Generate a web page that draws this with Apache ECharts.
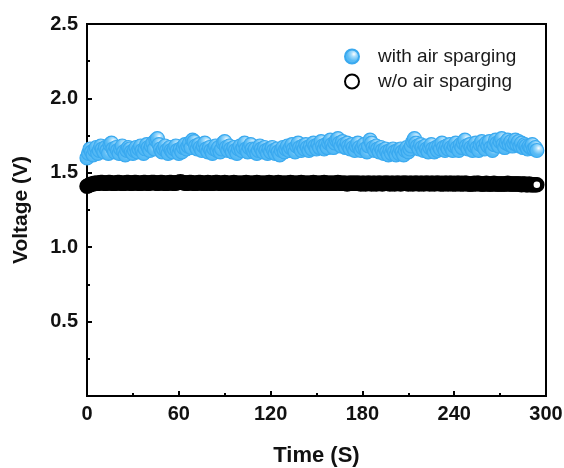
<!DOCTYPE html>
<html><head><meta charset="utf-8">
<script src="https://cdn.jsdelivr.net/npm/echarts@6/dist/echarts.min.js"></script>
<style>html,body{margin:0;padding:0;background:#fff}#c{width:564px;height:468px}</style>
</head><body><div id="c"></div>
<script>
const xTicks = [0, 60, 120, 180, 240, 300];
const yTicks = [0.5, 1.0, 1.5, 2.0, 2.5];
const seriesNames = ['with air sparging', 'w/o air sparging'];
const time = [
0,1,2,3,4,5,6,7,8,9,10,11,12,13,14,15,16,17,18,19,20,21,22,23,24,25,26,27,28,29,
30,31,32,33,34,35,36,37,38,39,40,41,42,43,44,45,46,47,48,49,50,51,52,53,54,55,56,57,58,59,
60,61,62,63,64,65,66,67,68,69,70,71,72,73,74,75,76,77,78,79,80,81,82,83,84,85,86,87,88,89,
90,91,92,93,94,95,96,97,98,99,100,101,102,103,104,105,106,107,108,109,110,111,112,113,114,115,116,117,118,119,
120,121,122,123,124,125,126,127,128,129,130,131,132,133,134,135,136,137,138,139,140,141,142,143,144,145,146,147,148,149,
150,151,152,153,154,155,156,157,158,159,160,161,162,163,164,165,166,167,168,169,170,171,172,173,174,175,176,177,178,179,
180,181,182,183,184,185,186,187,188,189,190,191,192,193,194,195,196,197,198,199,200,201,202,203,204,205,206,207,208,209,
210,211,212,213,214,215,216,217,218,219,220,221,222,223,224,225,226,227,228,229,230,231,232,233,234,235,236,237,238,239,
240,241,242,243,244,245,246,247,248,249,250,251,252,253,254,255,256,257,258,259,260,261,262,263,264,265,266,267,268,269,
270,271,272,273,274,275,276,277,278,279,280,281,282,283,284,285,286,287,288,289,290,291,292,293,294];
const withAir = [
1.60,1.63,1.66,1.64,1.62,1.65,1.67,1.63,1.65,1.68,
1.66,1.64,1.67,1.65,1.63,1.69,1.70,1.66,1.64,1.67,
1.65,1.63,1.66,1.68,1.64,1.62,1.65,1.67,1.66,1.64,
1.63,1.65,1.67,1.64,1.66,1.68,1.65,1.63,1.66,1.69,
1.67,1.65,1.68,1.70,1.66,1.72,1.73,1.69,1.66,1.64,
1.66,1.68,1.65,1.63,1.67,1.65,1.64,1.66,1.68,1.65,
1.63,1.66,1.64,1.67,1.69,1.66,1.68,1.70,1.67,1.72,
1.71,1.68,1.66,1.69,1.67,1.65,1.68,1.70,1.66,1.64,
1.67,1.65,1.63,1.66,1.68,1.65,1.67,1.64,1.66,1.70,
1.71,1.67,1.65,1.68,1.66,1.64,1.67,1.65,1.63,1.66,
1.68,1.65,1.67,1.70,1.66,1.64,1.67,1.69,1.66,1.64,
1.66,1.63,1.65,1.68,1.66,1.64,1.67,1.65,1.63,1.66,
1.64,1.67,1.65,1.63,1.66,1.64,1.62,1.65,1.67,1.64,
1.66,1.68,1.65,1.67,1.69,1.66,1.64,1.68,1.70,1.67,
1.65,1.68,1.66,1.69,1.67,1.65,1.68,1.66,1.70,1.68,
1.66,1.69,1.67,1.71,1.68,1.66,1.69,1.67,1.70,1.72,
1.69,1.67,1.70,1.72,1.73,1.70,1.68,1.71,1.69,1.67,
1.70,1.68,1.66,1.69,1.67,1.65,1.68,1.70,1.67,1.65,
1.67,1.69,1.66,1.64,1.68,1.72,1.70,1.67,1.65,1.68,
1.66,1.64,1.67,1.65,1.63,1.66,1.64,1.62,1.65,1.63,
1.66,1.64,1.62,1.65,1.63,1.66,1.64,1.62,1.65,1.67,
1.64,1.66,1.68,1.71,1.73,1.70,1.68,1.66,1.69,1.67,
1.65,1.68,1.66,1.64,1.67,1.69,1.66,1.64,1.67,1.65,
1.68,1.66,1.70,1.67,1.65,1.68,1.66,1.69,1.67,1.65,
1.68,1.70,1.67,1.65,1.69,1.67,1.70,1.72,1.68,1.66,
1.69,1.67,1.65,1.68,1.70,1.67,1.65,1.69,1.71,1.68,
1.66,1.70,1.68,1.71,1.67,1.65,1.69,1.72,1.70,1.68,
1.71,1.73,1.69,1.67,1.70,1.72,1.69,1.71,1.68,1.70,
1.72,1.69,1.71,1.68,1.70,1.67,1.69,1.68,1.66,1.68,
1.67,1.69,1.66,1.67,1.65];
const withoutAir = [
1.41,1.415,1.42,1.425,1.425,1.43,1.43,1.43,1.43,1.435,
1.435,1.43,1.43,1.43,1.435,1.435,1.43,1.43,1.43,1.43,
1.435,1.435,1.43,1.43,1.43,1.43,1.435,1.435,1.43,1.43,
1.43,1.435,1.435,1.43,1.43,1.43,1.43,1.435,1.435,1.43,
1.43,1.43,1.435,1.435,1.435,1.43,1.43,1.43,1.435,1.435,
1.43,1.43,1.43,1.43,1.435,1.435,1.43,1.43,1.43,1.435,
1.435,1.44,1.435,1.435,1.43,1.43,1.43,1.435,1.435,1.43,
1.43,1.43,1.43,1.435,1.435,1.43,1.43,1.43,1.43,1.435,
1.43,1.43,1.43,1.43,1.435,1.435,1.43,1.43,1.43,1.43,
1.435,1.43,1.43,1.43,1.43,1.43,1.435,1.43,1.43,1.43,
1.43,1.43,1.43,1.43,1.435,1.43,1.43,1.43,1.43,1.43,
1.43,1.435,1.43,1.43,1.43,1.43,1.43,1.43,1.43,1.435,
1.43,1.43,1.43,1.43,1.43,1.435,1.43,1.43,1.43,1.43,
1.43,1.43,1.43,1.435,1.43,1.43,1.43,1.43,1.43,1.43,
1.435,1.43,1.43,1.43,1.43,1.43,1.43,1.43,1.435,1.43,
1.43,1.43,1.43,1.43,1.43,1.435,1.43,1.43,1.43,1.43,
1.43,1.43,1.43,1.43,1.435,1.43,1.43,1.43,1.43,1.43,
1.425,1.43,1.43,1.43,1.43,1.43,1.43,1.43,1.43,1.425,
1.43,1.43,1.425,1.43,1.43,1.43,1.425,1.43,1.43,1.425,
1.43,1.43,1.43,1.425,1.43,1.43,1.43,1.43,1.425,1.43,
1.43,1.425,1.43,1.43,1.43,1.425,1.43,1.43,1.43,1.43,
1.425,1.43,1.43,1.425,1.43,1.43,1.43,1.425,1.43,1.43,
1.425,1.43,1.43,1.43,1.425,1.43,1.43,1.425,1.43,1.43,
1.43,1.425,1.43,1.425,1.43,1.43,1.425,1.43,1.43,1.425,
1.43,1.425,1.43,1.43,1.425,1.43,1.425,1.43,1.43,1.425,
1.425,1.425,1.425,1.43,1.425,1.43,1.43,1.425,1.425,1.425,
1.425,1.43,1.425,1.425,1.425,1.425,1.43,1.425,1.425,1.425,
1.425,1.425,1.425,1.425,1.425,1.43,1.425,1.425,1.425,1.425,
1.425,1.425,1.425,1.425,1.42,1.425,1.425,1.42,1.42,1.425,
1.42,1.42,1.42,1.42,1.42];

const FONT = 'Arial, "Liberation Sans", sans-serif';
const chart = echarts.init(document.getElementById('c'), null, {renderer: 'canvas'});
const blueFill = new echarts.graphic.RadialGradient(0.62, 0.35, 0.75, [
  {offset: 0, color: '#ffffff'},
  {offset: 0.22, color: '#a8ddfb'},
  {offset: 0.55, color: '#5bbcf6'},
  {offset: 1, color: '#44b2f3'}
]);
chart.setOption({
  animation: false,
  backgroundColor: '#ffffff',
  grid: {left: 87, right: 18, top: 24, bottom: 72, show: true, borderColor: '#000', borderWidth: 2,
    containLabel: false, outerBoundsMode: 'none'},
  legend: {
    orient: 'vertical', left: 339, top: 42, itemGap: 6,
    itemWidth: 14, itemHeight: 14,
    data: [{name: seriesNames[0], icon: 'circle'}, {name: seriesNames[1], icon: 'circle'}],
    textStyle: {fontFamily: FONT, fontSize: 19, color: '#1a1a1a', padding: [0, 0, 0, 14]}
  },
  xAxis: {
    type: 'value', min: 0, max: 300, interval: 60,
    name: 'Time (S)', nameLocation: 'middle', nameGap: 49,
    nameTextStyle: {fontFamily: FONT, fontSize: 22, fontWeight: 'bold', color: '#111'},
    axisLine: {lineStyle: {color: '#000', width: 2}},
    axisTick: {inside: true, length: 5, lineStyle: {width: 2, color: '#000'}},
    minorTick: {show: true, splitNumber: 2, length: 3, lineStyle: {width: 2, color: '#000'}},
    splitLine: {show: false},
    axisLabel: {fontFamily: FONT, fontSize: 20, fontWeight: 'bold', color: '#111', margin: 8,
      formatter: v => xTicks.includes(v) ? String(v) : ''}
  },
  yAxis: {
    type: 'value', min: 0, max: 2.5, interval: 0.5,
    name: 'Voltage (V)', nameLocation: 'middle', nameGap: 55,
    nameTextStyle: {fontFamily: FONT, fontSize: 21, fontWeight: 'bold', color: '#111'},
    axisLine: {lineStyle: {color: '#000', width: 2}},
    axisTick: {inside: true, length: 5, lineStyle: {width: 2, color: '#000'}},
    minorTick: {show: true, splitNumber: 2, length: 3, lineStyle: {width: 2, color: '#000'}},
    splitLine: {show: false},
    axisLabel: {fontFamily: FONT, fontSize: 20, fontWeight: 'bold', color: '#111', margin: 9,
      formatter: v => yTicks.some(t => Math.abs(t - v) < 1e-9) ? v.toFixed(1) : ''}
  },
  series: [
    {
      name: seriesNames[0], type: 'scatter', symbol: 'circle', symbolSize: 14, large: false,
      data: time.map((t, i) => [t, withAir[i]]),
      itemStyle: {color: blueFill, borderColor: '#3aa9ef', borderWidth: 1.2, opacity: 1}
    },
    {
      name: seriesNames[1], type: 'scatter', symbol: 'circle', symbolSize: 11, large: false,
      data: time.map((t, i) => [t, withoutAir[i]]),
      itemStyle: {color: '#ffffff', borderColor: '#000000', borderWidth: 4.5, opacity: 1}
    }
  ]
});
</script></body></html>
